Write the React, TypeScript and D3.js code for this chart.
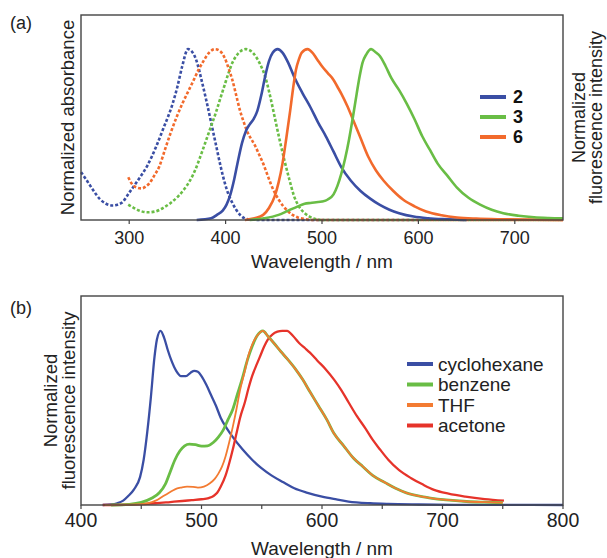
import React from "react";
import * as d3 from "d3";

// ---------- Panel (a) data ----------
const abs2WL = [250,255,262,270,283,292,300,310,319,328,335,345,350,355,361,367,371,375,380,385,390,395,399,403,407,411,415,419,425,440,600];
const abs2Val = [0.28,0.24,0.18,0.12,0.085,0.10,0.16,0.24,0.32,0.43,0.53,0.68,0.78,0.9,1.0,0.97,0.91,0.82,0.70,0.57,0.44,0.31,0.22,0.15,0.10,0.06,0.03,0.012,0.003,0,0];

const fl2WL = [370,385,391,397,401,405,409,413,417,421,425,429,433,437,441,445,449,454,459,465,471,480,488,496,504,512,520,530,540,550,560,570,580,595,610,630,650];
const fl2Val = [0,0.01,0.03,0.055,0.09,0.15,0.24,0.35,0.45,0.52,0.56,0.59,0.64,0.73,0.84,0.93,0.98,1.0,0.98,0.92,0.84,0.74,0.66,0.57,0.49,0.40,0.31,0.23,0.17,0.125,0.088,0.06,0.04,0.02,0.01,0.004,0];

const abs3WL = [299,305,312,319,327,335,343,351,357,363,369,375,380,385,390,395,399,403,407,411,416,421,426,431,436,441,446,451,456,461,466,471,476,482,487,492,500,750];
const abs3Val = [0.09,0.07,0.052,0.045,0.05,0.07,0.1,0.14,0.18,0.23,0.3,0.39,0.47,0.55,0.63,0.72,0.79,0.86,0.92,0.96,0.99,1.0,0.99,0.96,0.91,0.84,0.73,0.6,0.47,0.35,0.24,0.14,0.08,0.04,0.02,0.008,0,0];

const fl3WL = [425,440,455,465,475,482,488,494,500,506,512,516,520,524,528,532,536,539,542,546,551,556,560,566,572,580,588,596,604,612,620,630,640,652,664,676,688,704,720,735,750];
const fl3Val = [0,0.01,0.03,0.055,0.08,0.095,0.1,0.104,0.108,0.12,0.15,0.2,0.27,0.36,0.47,0.6,0.74,0.84,0.92,0.97,1.0,0.98,0.96,0.9,0.83,0.76,0.68,0.59,0.49,0.41,0.33,0.26,0.19,0.13,0.09,0.06,0.04,0.025,0.016,0.012,0.01];

const abs6WL = [299,303,308,313,317,321,326,331,337,343,349,355,361,367,372,377,383,389,394,399,403,407,411,415,419,423,427,431,435,439,443,447,451,455,460,465,470,475,482,490,750];
const abs6Val = [0.25,0.21,0.19,0.185,0.195,0.215,0.26,0.31,0.41,0.51,0.6,0.68,0.75,0.82,0.88,0.93,0.98,1.0,0.99,0.95,0.89,0.82,0.73,0.64,0.57,0.51,0.47,0.43,0.38,0.33,0.27,0.21,0.16,0.12,0.08,0.05,0.028,0.015,0.006,0,0];

const fl6WL = [420,430,439,445,451,455,459,463,467,470,473,476,479,485,490,495,500,506,512,516,520,526,532,540,548,556,564,574,584,596,608,624,640,660,690,750];
const fl6Val = [0,0.01,0.03,0.07,0.14,0.22,0.33,0.48,0.64,0.77,0.88,0.94,0.98,1.0,0.98,0.94,0.9,0.86,0.82,0.78,0.74,0.67,0.59,0.48,0.37,0.29,0.23,0.17,0.12,0.08,0.05,0.028,0.015,0.008,0.004,0];

const topTicks = [300, 400, 500, 600, 700];
const topLegendLabels = ["2", "3", "6"];

// ---------- Panel (b) data ----------
const cyclohexaneWL = [418,425,430,435,439,444,449,452,455,458,461,463,466,469,472,475,479,483,487,491,494,497,500,504,508,512,516,521,526,534,542,550,558,568,577,588,600,612,622,640,655,680,710,800];
const cyclohexaneVal = [0,0.003,0.01,0.025,0.05,0.09,0.16,0.26,0.42,0.62,0.85,0.95,1.0,0.96,0.89,0.83,0.77,0.74,0.74,0.76,0.77,0.765,0.74,0.69,0.63,0.57,0.5,0.44,0.39,0.32,0.26,0.21,0.17,0.13,0.096,0.07,0.048,0.032,0.02,0.01,0.006,0.003,0.001,0];

const benzeneWL = [425,440,450,459,465,470,474,478,482,486,490,495,500,505,510,514,518,522,526,530,534,538,542,546,551,555,560,566,571,578,584,590,597,604,610,618,626,634,642,652,661,670,680,690,703,720,735,750];
const benzeneVal = [0,0.004,0.015,0.04,0.07,0.12,0.19,0.26,0.31,0.34,0.35,0.346,0.338,0.34,0.36,0.39,0.43,0.49,0.55,0.64,0.73,0.83,0.91,0.97,1.0,0.97,0.93,0.88,0.84,0.78,0.72,0.65,0.57,0.49,0.41,0.34,0.27,0.22,0.17,0.13,0.096,0.07,0.052,0.04,0.029,0.02,0.016,0.013];

const thfWL = [420,445,455,462,468,473,478,483,488,493,497,502,507,511,514,517,520,523,526,529,532,536,539,542,546,551,555,560,566,571,578,584,590,597,604,610,618,626,634,642,652,661,670,680,690,703,720,735,750];
const thfVal = [0,0.003,0.01,0.025,0.05,0.07,0.09,0.1,0.106,0.104,0.1,0.106,0.125,0.15,0.18,0.22,0.28,0.36,0.45,0.55,0.66,0.77,0.86,0.92,0.97,1.0,0.97,0.93,0.88,0.84,0.78,0.72,0.65,0.57,0.49,0.41,0.34,0.27,0.22,0.17,0.13,0.096,0.07,0.052,0.04,0.029,0.02,0.016,0.014];

const acetoneWL = [418,440,462,474,484,492,500,506,510,513,516,520,523,526,529,532,536,539,542,546,549,552,555,559,563,567,571,576,581,586,590,596,603,610,616,622,629,636,642,648,655,664,674,683,693,705,719,735,751];
const acetoneVal = [0,0.003,0.01,0.017,0.023,0.028,0.033,0.04,0.052,0.07,0.106,0.17,0.24,0.32,0.41,0.5,0.59,0.67,0.74,0.81,0.86,0.91,0.95,0.98,0.995,1.0,1.0,0.97,0.93,0.9,0.875,0.83,0.78,0.72,0.66,0.59,0.51,0.44,0.375,0.32,0.26,0.2,0.154,0.12,0.087,0.065,0.048,0.034,0.025];

const bottomTicks = [400, 450, 500, 550, 600, 650, 700, 750, 800];
const bottomTickLabels = [400, 500, 600, 700, 800];
const bottomLegendLabels = ["cyclohexane", "benzene", "THF", "acetone"];

const BLUE = "#3a4ea4";
const GREEN = "#69bd45";
const ORANGE = "#f26a2c";
const ORANGE_B = "#f37b32";
const RED = "#e6332a";

const FONT = "'Liberation Sans', Arial, Helvetica, sans-serif";

function zip(wl: number[], v: number[]) {
  return wl.map((w, i) => [w, v[i]] as [number, number]);
}

export default function App() {
  // panel a geometry
  const aL = 81, aR = 563, aT = 15, aB = 220;
  const xa = d3.scaleLinear().domain([250, 750]).range([aL, aR]);
  const ya = d3.scaleLinear().domain([0, 1.2]).range([aB, aT]);
  const lineA = d3.line<[number, number]>().x(d => xa(d[0])).y(d => ya(d[1])).curve(d3.curveMonotoneX);

  // panel b geometry
  const bL = 81, bR = 563, bT = 296, bB = 505;
  const xb = d3.scaleLinear().domain([400, 800]).range([bL, bR]);
  const yb = d3.scaleLinear().domain([0, 1.2]).range([bB, bT]);
  const lineB = d3.line<[number, number]>().x(d => xb(d[0])).y(d => yb(d[1])).curve(d3.curveMonotoneX);

  const topSeries = [
    { d: zip(abs2WL, abs2Val), c: BLUE, dash: "3 2" },
    { d: zip(abs3WL, abs3Val), c: GREEN, dash: "3 2" },
    { d: zip(abs6WL, abs6Val), c: ORANGE, dash: "3 2" },
    { d: zip(fl2WL, fl2Val), c: BLUE, dash: null },
    { d: zip(fl6WL, fl6Val), c: ORANGE, dash: null },
    { d: zip(fl3WL, fl3Val), c: GREEN, dash: null },
  ];
  const topLegendColors = [BLUE, GREEN, ORANGE];

  const bottomSeries = [
    { d: zip(cyclohexaneWL, cyclohexaneVal), c: BLUE },
    { d: zip(acetoneWL, acetoneVal), c: RED },
    { d: zip(benzeneWL, benzeneVal), c: GREEN, w: 2.8 },
    { d: zip(thfWL, thfVal), c: ORANGE_B, w: 1.8 },
  ];
  const bottomLegendColors = [BLUE, GREEN, ORANGE_B, RED];

  return (
    <svg width={607} height={558} style={{ position: "absolute", left: 0, top: 0, background: "#fff" }} fontFamily={FONT}>
      {/* ---------- Panel (a) ---------- */}
      <text x={10} y={29} fontSize={18} fill="#222">(a)</text>
      <g>
        {topSeries.map((s, i) => (
          <path key={i} d={lineA(s.d) || ""} fill="none" stroke={s.c} strokeWidth={2.6}
            strokeDasharray={s.dash || undefined} strokeLinejoin="round" />
        ))}
      </g>
      <rect x={aL} y={aT} width={aR - aL} height={aB - aT} fill="none" stroke="#444" strokeWidth={1.4} />
      {topTicks.map(t => (
        <g key={t}>
          <line x1={xa(t)} x2={xa(t)} y1={aB} y2={aB + 4} stroke="#444" strokeWidth={1.2} />
          <text x={xa(t)} y={244} fontSize={18} textAnchor="middle" fill="#222">{t}</text>
        </g>
      ))}
      <text x={(aL + aR) / 2} y={268} fontSize={19} textAnchor="middle" fill="#222">Wavelength / nm</text>
      <text transform={`translate(74,${(aT + aB) / 2}) rotate(-90)`} fontSize={18.5} textAnchor="middle" fill="#222">Normalized absorbance</text>
      <text transform={`translate(585,${(aT + aB) / 2}) rotate(-90)`} fontSize={18} textAnchor="middle" fill="#222">Normalized</text>
      <text transform={`translate(602,${(aT + aB) / 2}) rotate(-90)`} fontSize={18} textAnchor="middle" fill="#222">fluorescence intensity</text>
      {topLegendLabels.map((lab, i) => (
        <g key={lab}>
          <line x1={480} x2={506} y1={97 + i * 20} y2={97 + i * 20} stroke={topLegendColors[i]} strokeWidth={4} />
          <text x={513} y={103 + i * 20} fontSize={18} fontWeight="bold" fill="#111">{lab}</text>
        </g>
      ))}

      {/* ---------- Panel (b) ---------- */}
      <text x={10} y={314} fontSize={18} fill="#222">(b)</text>
      <g>
        {bottomSeries.map((s, i) => (
          <path key={i} d={lineB(s.d) || ""} fill="none" stroke={s.c} strokeWidth={s.w || 2.3} strokeLinejoin="round" />
        ))}
      </g>
      <rect x={bL} y={bT} width={bR - bL} height={bB - bT} fill="none" stroke="#444" strokeWidth={1.4} />
      {bottomTicks.map(t => (
        <line key={t} x1={xb(t)} x2={xb(t)} y1={bB} y2={bB + 4} stroke="#444" strokeWidth={1.2} />
      ))}
      {bottomTickLabels.map(t => (
        <text key={t} x={xb(t)} y={527} fontSize={19.5} textAnchor="middle" fill="#222">{t}</text>
      ))}
      <text x={(bL + bR) / 2} y={555} fontSize={19} textAnchor="middle" fill="#222">Wavelength / nm</text>
      <text transform={`translate(57,${(bT + bB) / 2}) rotate(-90)`} fontSize={18.5} textAnchor="middle" fill="#222">Normalized</text>
      <text transform={`translate(75,${(bT + bB) / 2}) rotate(-90)`} fontSize={18.5} textAnchor="middle" fill="#222">fluorescence intensity</text>
      {bottomLegendLabels.map((lab, i) => (
        <g key={lab}>
          <line x1={407} x2={433} y1={364 + i * 20.5} y2={364 + i * 20.5} stroke={bottomLegendColors[i]} strokeWidth={4} />
          <text x={438} y={370.5 + i * 20.5} fontSize={19} fill="#222">{lab}</text>
        </g>
      ))}
    </svg>
  );
}
